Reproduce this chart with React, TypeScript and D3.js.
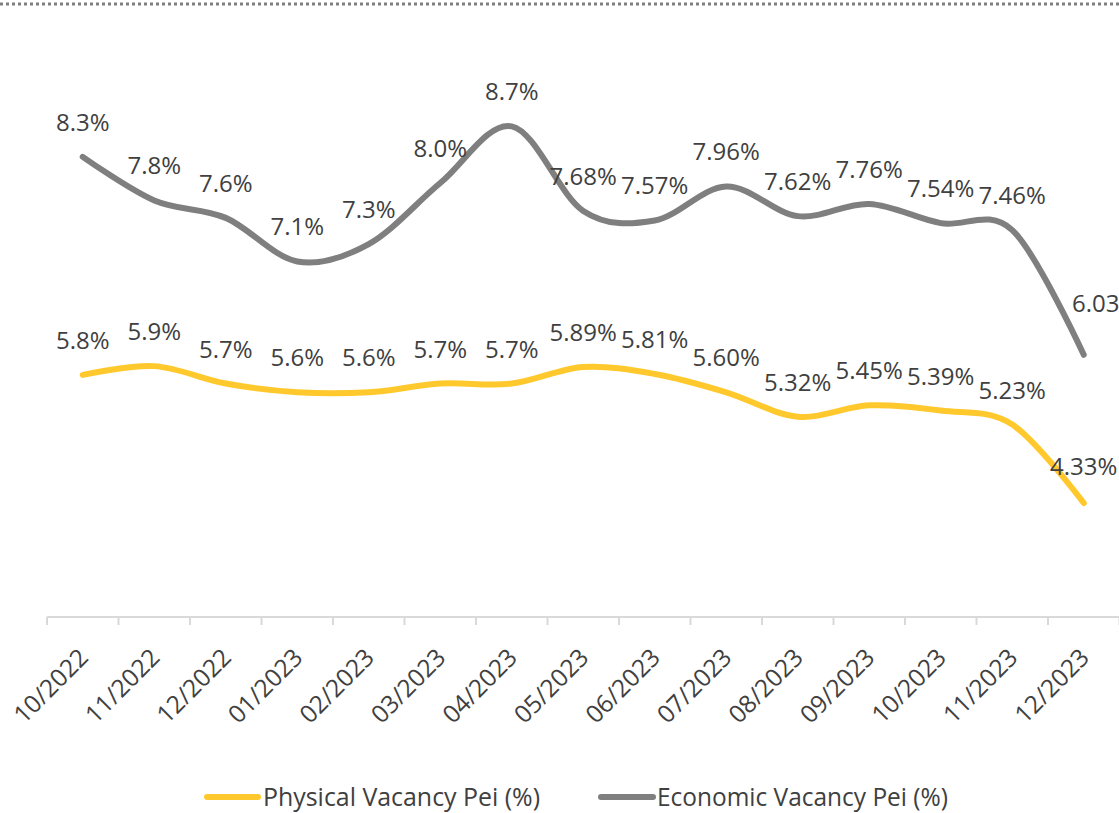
import React from "react";
import * as d3 from "d3";

const categories = [
  "10/2022", "11/2022", "12/2022", "01/2023", "02/2023", "03/2023", "04/2023", "05/2023",
  "06/2023", "07/2023", "08/2023", "09/2023", "10/2023", "11/2023", "12/2023",
];
const physicalValues = [5.8, 5.9, 5.7, 5.6, 5.6, 5.7, 5.7, 5.89, 5.81, 5.6, 5.32, 5.45, 5.39, 5.23, 4.33];
const physicalLabels = ["5.8%", "5.9%", "5.7%", "5.6%", "5.6%", "5.7%", "5.7%", "5.89%", "5.81%", "5.60%", "5.32%", "5.45%", "5.39%", "5.23%", "4.33%"];
const economicValues = [8.3, 7.8, 7.6, 7.1, 7.3, 8.0, 8.65, 7.68, 7.57, 7.96, 7.62, 7.76, 7.54, 7.46, 6.03];
const economicLabels = ["8.3%", "7.8%", "7.6%", "7.1%", "7.3%", "8.0%", "8.7%", "7.68%", "7.57%", "7.96%", "7.62%", "7.76%", "7.54%", "7.46%", "6.03%"];
const seriesNames = ["Physical Vacancy Pei (%)", "Economic Vacancy Pei (%)"];

const W = 1119;
const H = 813;
const YELLOW = "#FFC92E";
const GRAY = "#7F7F7F";
const TEXT = "#404040";
const FONT = "'Open Sans', sans-serif";

export default function App() {
  const x = d3.scaleBand<string>().domain(categories).range([47, 47 + 71.5 * categories.length]).paddingInner(0).paddingOuter(0);
  const y = d3.scaleLinear().domain([3, 10]).range([619, 619 - 7 * 87.2]);
  const cx = (c: string) => (x(c) ?? 0) + x.bandwidth() / 2;

  const line = d3
    .line<number>()
    .x((_, i) => cx(categories[i]))
    .y((d) => y(d))
    .curve(d3.curveCardinal.tension(0));

  const tickXs = categories.map((c) => x(c) ?? 0).concat([(x(categories[categories.length - 1]) ?? 0) + x.bandwidth()]);

  const series = [
    { values: physicalValues, labels: physicalLabels, color: YELLOW, name: seriesNames[0] },
    { values: economicValues, labels: economicLabels, color: GRAY, name: seriesNames[1] },
  ];

  return (
    <svg
      width={W}
      height={H}
      style={{ position: "absolute", left: 0, top: 0, background: "#fff", fontFamily: FONT }}
    >
      <line x1={0} x2={W} y1={4} y2={4} stroke="#7F7F7F" strokeWidth={3} strokeDasharray="3 3" />

      {/* axis */}
      <line x1={47} x2={W} y1={617} y2={617} stroke="#D9D9D9" strokeWidth={2} />
      {tickXs.map((tx, i) => (
        <line key={i} x1={tx} x2={tx} y1={617} y2={625} stroke="#D9D9D9" strokeWidth={2} />
      ))}
      {categories.map((c) => (
        <text
          key={c}
          transform={`translate(${cx(c) + 7},${659}) rotate(-45)`}
          textAnchor="end"
          fontSize={24.5}
          fill={TEXT}
        >
          {c}
        </text>
      ))}

      {series.map((s) => (
        <path
          key={s.name}
          d={line(s.values) ?? ""}
          fill="none"
          stroke={s.color}
          strokeWidth={6}
          strokeLinecap="round"
          strokeLinejoin="round"
        />
      ))}

      {series.map((s, si) =>
        s.values.map((v, i) => {
          let dx = 0;
          let dy = -26;
          if (si === 1 && i === s.values.length - 1) {
            dx = 22;
            dy = -43;
          }
          if (si === 0 && i === s.values.length - 1) {
            dy = -28;
          }
          return (
            <text
              key={`${si}-${i}`}
              x={cx(categories[i]) + dx}
              y={y(v) + dy}
              textAnchor="middle"
              fontSize={24}
              fill={TEXT}
            >
              {s.labels[i]}
            </text>
          );
        })
      )}

      {/* legend */}
      <line x1={207} x2={258} y1={797} y2={797} stroke={YELLOW} strokeWidth={6} strokeLinecap="round" />
      <text x={263} y={806} fontSize={25} fill={TEXT} textLength={277} lengthAdjust="spacingAndGlyphs">
        {seriesNames[0]}
      </text>
      <line x1={601} x2={653} y1={797} y2={797} stroke={GRAY} strokeWidth={6} strokeLinecap="round" />
      <text x={657} y={806} fontSize={25} fill={TEXT} textLength={291} lengthAdjust="spacingAndGlyphs">
        {seriesNames[1]}
      </text>
    </svg>
  );
}
